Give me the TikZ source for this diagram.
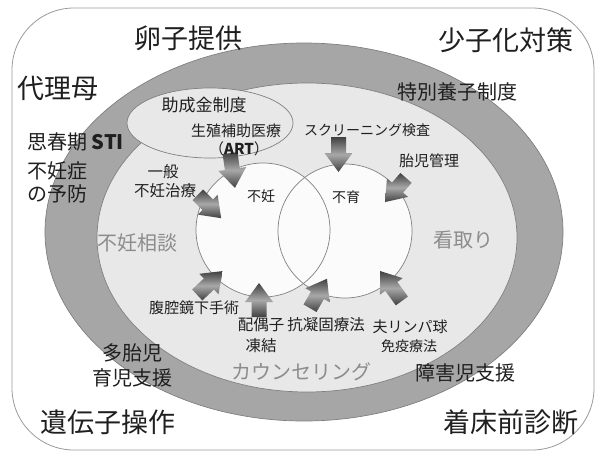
\documentclass[tikz,border=0pt]{standalone}
\usepackage{fontspec}
\setmainfont{Noto Sans CJK JP}
\definecolor{ringdark}{gray}{0.65}
\definecolor{ringlight}{gray}{0.91}
\definecolor{edgegray}{gray}{0.5}
\definecolor{txt}{gray}{0.12}
\definecolor{softtxt}{gray}{0.55}
\definecolor{circfill}{gray}{0.985}
\definecolor{arrdark}{gray}{0.25}
\definecolor{arrlight}{gray}{0.66}
% block arrow: name, centre, angle, length
\newcommand{\blockarrow}[4]{%
  \coordinate (#1) at (#2);
  \begin{scope}[shift={(#1)}, rotate=#3]
    \shade[arrshade]
      ({-0.5*#4pt},-7.5pt) -- ({0.5*#4pt-19pt},-7.5pt) -- ({0.5*#4pt-19pt},-14pt)
      -- ({0.5*#4pt},0pt) -- ({0.5*#4pt-19pt},14pt) -- ({0.5*#4pt-19pt},7.5pt)
      -- ({-0.5*#4pt},7.5pt) -- cycle;
  \end{scope}}
\begin{document}
\begin{tikzpicture}[x=1pt,y=-1pt,
  lbl/.style={inner sep=0pt, text=txt, font=\fontsize{#1pt}{#1pt}\selectfont},
  softlbl/.style={inner sep=0pt, text=softtxt, font=\fontsize{#1pt}{#1pt}\selectfont},
  arrshade/.style={top color=arrdark, bottom color=arrdark, middle color=arrlight},
  ring/.style={draw=edgegray, line width=0.7pt}
]
\useasboundingbox (0,0) rectangle (596,452);
% outer rounded frame
\draw[edgegray!80, line width=0.8pt, rounded corners=62pt] (12,8) rectangle (594,450);
% rings
\filldraw[ring, fill=ringdark] (304,232) ellipse [x radius=259pt, y radius=189pt];
\filldraw[ring, fill=ringlight] (307,237.5) ellipse [x radius=210pt, y radius=154.5pt];
% two circles
\fill[circfill] (263,230) circle [radius=67pt];
\fill[circfill] (345,231) circle [radius=67pt];
\draw[ring] (263,230) circle [radius=67pt];
\draw[ring] (345,231) circle [radius=67pt];
% subsidy ellipse
\filldraw[ring, fill=ringlight] (210,123) ellipse [x radius=83pt, y radius=35pt];
% block arrows
\blockarrow{a1}{232.5,170.5}{-82}{35}
\blockarrow{a2}{209.5,206.5}{-45}{33}
\blockarrow{a3}{338.5,154.5}{-90}{35}
\blockarrow{a4}{395.5,190}{-131}{32}
\blockarrow{a5}{210,283}{43}{35}
\blockarrow{a6}{259,300}{90}{34}
\blockarrow{a7}{318.5,293.5}{60}{34}
\blockarrow{a8}{391,286}{126}{37}
% outer corner labels
\node[lbl=27] (egg) at (188,38) {卵子提供};
\node[lbl=27] (shoshi) at (506,40) {少子化対策};
\node[lbl=27] (dairi) at (58,88) {代理母};
\node[lbl=27] (iden) at (108,422) {遺伝子操作};
\node[lbl=27] (chaku) at (511,422) {着床前診断};
% ring labels
\node[lbl=20] (tokubetsu) at (457,92) {特別養子制度};
\node[lbl=20, anchor=west] (shishun) at (27,142) {思春期 \textbf{STI}};
\node[lbl=20, anchor=west] (funinsho) at (27,171) {不妊症};
\node[lbl=20, anchor=west] (yobo) at (27,194) {の予防};
\node[lbl=20] (tatai) at (132,353) {多胎児};
\node[lbl=20] (ikuji) at (132,378) {育児支援};
\node[lbl=20] (shogai) at (465,373) {障害児支援};
% light ring labels
\node[softlbl=20] (sodan) at (137,243) {不妊相談};
\node[softlbl=20] (mitori) at (463,240) {看取り};
\node[softlbl=20] (counsel) at (301,372) {カウンセリング};
% inner labels
\node[lbl=17] (josei) at (204,105) {助成金制度};
\node[lbl=15] (seishoku) at (236,131) {生殖補助医療};
\node[lbl=15] (art) at (239,149) {（\textbf{ART}）};
\node[lbl=15.5] (ippan) at (163,172) {一般};
\node[lbl=15.5] (ippan2) at (165,191) {不妊治療};
\node[lbl=14] (funin) at (261,196) {不妊};
\node[lbl=14] (fuiku) at (346,197) {不育};
\node[lbl=14] (screen) at (367,130) {スクリーニング検査};
\node[lbl=15] (taiji) at (429,161) {胎児管理};
\node[lbl=15] (fukuku) at (194,308) {腹腔鏡下手術};
\node[lbl=15.5] (haigu) at (261,325) {配偶子};
\node[lbl=15.5] (toketsu) at (261,346) {凍結};
\node[lbl=15.5] (kogyoko) at (326,325) {抗凝固療法};
\node[lbl=15] (otto) at (410,327) {夫リンパ球};
\node[lbl=14] (meneki) at (409,346) {免疫療法};
\end{tikzpicture}
\end{document}
